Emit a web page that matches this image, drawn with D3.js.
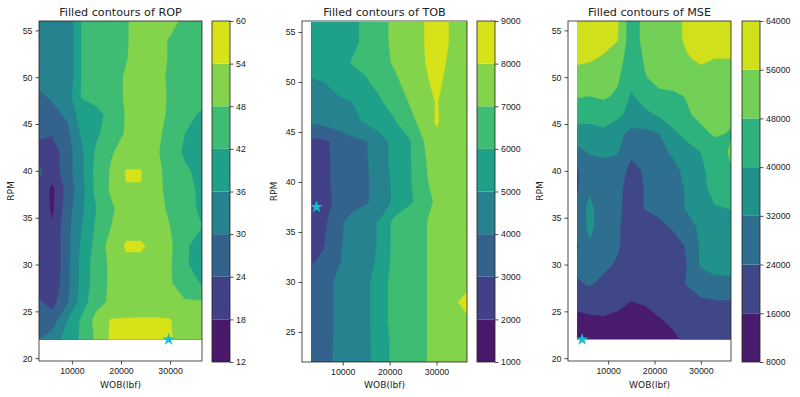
<!DOCTYPE html>
<html lang="en">
<head>
<meta charset="utf-8">
<title>Filled contours</title>
<script src="https://cdn.jsdelivr.net/npm/d3@7"></script>
<style>
  html, body { margin: 0; background: #fff; }
  svg { font-family: "DejaVu Sans", sans-serif; }
  .tick text { fill: #222; }
  .tick line { stroke: #222; stroke-width: 0.8; }
</style>
</head>
<body>
<svg id="chart" width="800" height="397"></svg>
<script>
// grid axes (columns = WOB, rows = RPM, top row first)
const wob = [3300, 6000, 9000, 12000, 15000, 18000, 21000, 24000, 27000, 30000, 33000, 36500];
const rpm = [56, 54, 52, 50, 48, 46, 44, 42, 40, 38, 36, 34, 32, 30, 28, 26, 24, 22];

const ropLevels = [12, 18, 24, 30, 36, 42, 48, 54, 60];
const tobLevels = [1000, 2000, 3000, 4000, 5000, 6000, 7000, 8000, 9000];
const mseLevels = [8000, 16000, 24000, 32000, 40000, 48000, 56000, 64000];
const wobTicks = [10000, 20000, 30000];

const ropGrid = [
  [33, 33, 31, 42.3, 45, 46, 47.5, 50, 50, 50, 46.5, 46],
  [33, 33, 31, 42.3, 45, 46, 47.5, 50, 50, 47.5, 46.5, 46],
  [33, 33, 31, 42.3, 45, 46, 47.7, 50, 50, 47.5, 46.5, 46],
  [32, 32.5, 31, 42.3, 45, 46, 48.5, 50, 49, 47.5, 46, 46],
  [29, 31, 33, 42.5, 44.5, 46, 48.5, 50, 49.5, 47.5, 46, 45],
  [27, 28, 31, 39, 40, 44, 48.3, 50, 50, 47, 44, 41],
  [25, 24.5, 28, 37, 41, 45, 48.5, 50, 49.5, 46, 42, 40],
  [22, 21, 27, 35, 43, 47.5, 50, 50.5, 49, 45, 41, 41],
  [25, 21, 27, 35, 44, 48.5, 54.3, 54.3, 50, 45.5, 43, 40],
  [23, 16.5, 26, 34, 44, 48.8, 53.8, 53.8, 50, 46, 43.5, 41],
  [22, 17, 27, 35, 42, 47, 51, 51.5, 50, 47, 44, 41],
  [21, 18.5, 28, 36, 43, 48, 52.5, 52.5, 50, 48, 44, 42],
  [22, 19, 28, 37, 44, 50.5, 54.5, 54.5, 53, 49, 43, 39],
  [22, 19, 28, 38, 45, 49, 53, 53, 51, 48.5, 43, 38.5],
  [22, 19.5, 28, 38, 45, 49, 51.5, 51.5, 51, 48.5, 45, 41.5],
  [24.5, 22, 29, 39, 46, 49, 51, 51.5, 51, 49.5, 48.5, 48.5],
  [28, 27, 36, 43, 50, 54.5, 54.5, 54.5, 54.6, 54.5, 48.5, 48.5],
  [30, 33, 38, 43, 49, 55, 55.5, 55.5, 55, 55, 49, 48.5]
];

const tobGrid = [
  [5500, 5500, 5600, 5800, 6200, 6700, 7200, 7500, 7900, 8600, 7900, 7600],
  [5500, 5500, 5600, 5800, 6200, 6700, 7200, 7500, 7900, 8600, 7900, 7600],
  [5400, 5400, 5600, 6050, 6250, 6700, 7100, 7400, 7900, 8400, 7800, 7500],
  [4900, 5000, 5200, 5700, 5900, 6300, 6800, 7300, 7800, 8200, 7700, 7400],
  [4500, 4700, 4900, 5000, 5300, 5900, 6400, 7000, 7600, 8050, 7600, 7300],
  [4100, 4300, 4500, 4800, 5100, 5500, 5900, 6600, 7300, 8100, 7500, 7200],
  [2700, 2800, 3300, 3700, 3950, 4600, 5300, 5800, 6900, 7700, 7500, 7300],
  [2600, 2750, 3300, 3700, 3900, 4600, 5300, 5800, 6800, 7500, 7400, 7300],
  [2500, 2750, 3300, 3600, 3850, 4500, 5200, 5800, 6700, 7400, 7400, 7300],
  [2300, 2600, 3300, 3600, 3900, 4400, 5200, 5800, 6400, 7200, 7300, 7300],
  [2400, 2800, 3700, 4400, 4700, 5100, 6300, 6700, 6900, 7200, 7250, 7300],
  [2700, 2950, 3800, 4400, 4700, 5100, 6300, 6700, 6900, 7200, 7300, 7300],
  [2950, 3100, 3900, 4400, 4700, 5200, 6300, 6700, 6900, 7200, 7300, 7300],
  [3300, 3600, 4200, 4500, 4800, 5500, 6400, 6700, 6900, 7200, 7300, 7400],
  [3300, 3600, 4200, 4500, 4800, 5500, 6400, 6700, 6900, 7200, 7500, 8600],
  [3300, 3600, 4200, 4500, 4800, 5500, 6400, 6700, 6900, 7200, 7300, 7600],
  [3300, 3650, 4200, 4500, 4800, 5400, 6300, 6700, 6900, 7200, 7300, 7400],
  [3300, 3700, 4200, 4500, 4800, 5400, 6300, 6700, 6900, 7200, 7300, 7400]
];

const mseGrid = [
  [62000, 62000, 62000, 57000, 43000, 51000, 54000, 54000, 57000, 60000, 60000, 60000],
  [61000, 60000, 59000, 56300, 43000, 51000, 53000, 54000, 57000, 60000, 60000, 59000],
  [57500, 57000, 55000, 52000, 43000, 49000, 52000, 53000, 55500, 57000, 56000, 56000],
  [53000, 52000, 51000, 49000, 43000, 47500, 51000, 52000, 53000, 54000, 53000, 53000],
  [48500, 48000, 49000, 47000, 39000, 44000, 46000, 46500, 48500, 52000, 52000, 52000],
  [44000, 43000, 44000, 42000, 37000, 38000, 41000, 45000, 47000, 50000, 51000, 49000],
  [36000, 37000, 38000, 34000, 30000, 30000, 32000, 38000, 43000, 46000, 49000, 47500],
  [30000, 32500, 33000, 32500, 26000, 28000, 30000, 33000, 36000, 40000, 44000, 49000],
  [23000, 29000, 30000, 29000, 21000, 25000, 27000, 30000, 34000, 39000, 42000, 47500],
  [23000, 31000, 29000, 27000, 19000, 24500, 27000, 28000, 33000, 38000, 42000, 44000],
  [27000, 34000, 28000, 26000, 20000, 24500, 26000, 27000, 33000, 36000, 39500, 40200],
  [26000, 34000, 28000, 25000, 20000, 19000, 22000, 25000, 28000, 34000, 35000, 36000],
  [23000, 31000, 27000, 25000, 20000, 19000, 19000, 20000, 25000, 33000, 36000, 37000],
  [26000, 28000, 26000, 23000, 20000, 20000, 20000, 21000, 24000, 33000, 36000, 36000],
  [23000, 25000, 22000, 20000, 19000, 19000, 19000, 20000, 24500, 27000, 29000, 29000],
  [18000, 19000, 19000, 17000, 15900, 16500, 18000, 19500, 21000, 23000, 23500, 23500],
  [14000, 14500, 15000, 15000, 13000, 14000, 15500, 17000, 19000, 22000, 23000, 23000],
  [12000, 12000, 12500, 12500, 13000, 13000, 14000, 15000, 17000, 20000, 21000, 21000]
];

// optimum markers [WOB, RPM]
const ropStar = [29700, 22];
const tobStar = [4400, 37.5];
const mseStar = [4400, 22];

const panels = [
  { name: 'ROP', grid: ropGrid, levels: ropLevels, star: ropStar,
    box: { x0: 39, x1: 202, y0: 21, y1: 361 }, xDomain: [3300, 36500], yDomain: [19.7, 56],
    yTicks: [20, 25, 30, 35, 40, 45, 50, 55], barX: 212 },
  { name: 'TOB', grid: tobGrid, levels: tobLevels, star: tobStar,
    box: { x0: 302, x1: 467, y0: 21, y1: 362 }, xDomain: [1300, 36500], yDomain: [22, 56.1],
    yTicks: [25, 30, 35, 40, 45, 50, 55], barX: 477 },
  { name: 'MSE', grid: mseGrid, levels: mseLevels, star: mseStar,
    box: { x0: 568, x1: 731, y0: 21, y1: 361 }, xDomain: [1350, 36500], yDomain: [19.7, 56],
    yTicks: [20, 25, 30, 35, 40, 45, 50, 55], barX: 742 }
];

const svg = d3.select('#chart');
const nCols = wob.length;
const nRows = rpm.length;
const colScale = d3.scaleLinear().domain(d3.range(nCols)).range(wob);
const rowScale = d3.scaleLinear().domain(d3.range(nRows)).range(rpm);

panels.forEach((p, k) => {
  const b = p.box;
  const x = d3.scaleLinear().domain(p.xDomain).range([b.x0, b.x1]);
  const y = d3.scaleLinear().domain(p.yDomain).range([b.y1, b.y0]);
  const nBands = p.levels.length - 1;
  const color = i => d3.interpolateViridis((i + 0.5) / nBands);

  const g = svg.append('g');

  // clip to the area covered by the measured grid
  const clipId = 'clip' + k;
  svg.append('clipPath').attr('id', clipId)
    .append('rect')
    .attr('x', x(wob[0])).attr('y', y(d3.max(rpm)))
    .attr('width', x(wob[nCols - 1]) - x(wob[0]))
    .attr('height', y(d3.min(rpm)) - y(d3.max(rpm)));

  // contour coords: value i sits at i + 0.5
  const proj = d3.geoTransform({
    point: function(cx, cy) {
      this.stream.point(x(colScale(cx - 0.5)), y(rowScale(cy - 0.5)));
    }
  });
  const path = d3.geoPath(proj);

  const contours = d3.contours()
    .size([nCols, nRows])
    .thresholds(p.levels.slice(0, -1))(p.grid.flat());

  g.append('g')
    .attr('clip-path', `url(#${clipId})`)
    .selectAll('path')
    .data(contours)
    .enter().append('path')
    .attr('d', path)
    .attr('fill', (d, i) => color(i))
    .attr('stroke', (d, i) => color(i))
    .attr('stroke-width', 0.4);

  // frame
  g.append('rect')
    .attr('x', b.x0).attr('y', b.y0)
    .attr('width', b.x1 - b.x0).attr('height', b.y1 - b.y0)
    .attr('fill', 'none').attr('stroke', '#222').attr('stroke-width', 0.8);

  const xAxis = g.append('g')
    .attr('transform', `translate(0,${b.y1})`)
    .call(d3.axisBottom(x).tickValues(wobTicks).tickFormat(d3.format('d')).tickSize(3.5).tickPadding(3.5));
  xAxis.select('.domain').remove();
  xAxis.selectAll('text').style('font-size', '8.8px');

  const yAxis = g.append('g')
    .attr('transform', `translate(${b.x0},0)`)
    .call(d3.axisLeft(y).tickValues(p.yTicks).tickSize(3.5).tickPadding(3));
  yAxis.select('.domain').remove();
  yAxis.selectAll('text').style('font-size', '8.8px');

  g.append('text')
    .attr('x', (b.x0 + b.x1) / 2).attr('y', 15.5)
    .attr('text-anchor', 'middle')
    .style('font-size', '11.2px').attr('fill', '#222')
    .text('Filled contours of ' + p.name);

  g.append('text')
    .attr('x', (b.x0 + b.x1) / 2).attr('y', 388)
    .attr('text-anchor', 'middle')
    .style('font-size', '9.1px').attr('fill', '#222')
    .text('WOB(lbf)');

  g.append('text')
    .attr('transform', `translate(${b.x0 - 25},${(b.y0 + b.y1) / 2}) rotate(-90)`)
    .attr('text-anchor', 'middle')
    .style('font-size', '9.1px').attr('fill', '#222')
    .text('RPM');

  // star marker
  g.append('path')
    .attr('d', d3.symbol().type(d3.symbolStar).size(48)())
    .attr('transform', `translate(${x(p.star[0])},${y(p.star[1])})`)
    .attr('fill', '#17becf');

  // colorbar
  const barW = 18;
  const cy = d3.scaleLinear().domain(d3.extent(p.levels)).range([362, 21]);
  const bar = svg.append('g');
  bar.selectAll('rect')
    .data(d3.range(nBands))
    .enter().append('rect')
    .attr('x', p.barX).attr('width', barW)
    .attr('y', i => cy(p.levels[i + 1]))
    .attr('height', i => cy(p.levels[i]) - cy(p.levels[i + 1]))
    .attr('fill', i => color(i));
  bar.append('rect')
    .attr('x', p.barX).attr('y', 21).attr('width', barW).attr('height', 341)
    .attr('fill', 'none').attr('stroke', '#222').attr('stroke-width', 0.8);
  const cAxis = bar.append('g')
    .attr('transform', `translate(${p.barX + barW},0)`)
    .call(d3.axisRight(cy).tickValues(p.levels).tickFormat(d3.format('d')).tickSize(3.5).tickPadding(2.5));
  cAxis.select('.domain').remove();
  cAxis.selectAll('text').style('font-size', '8.8px');
});
</script>
</body>
</html>
